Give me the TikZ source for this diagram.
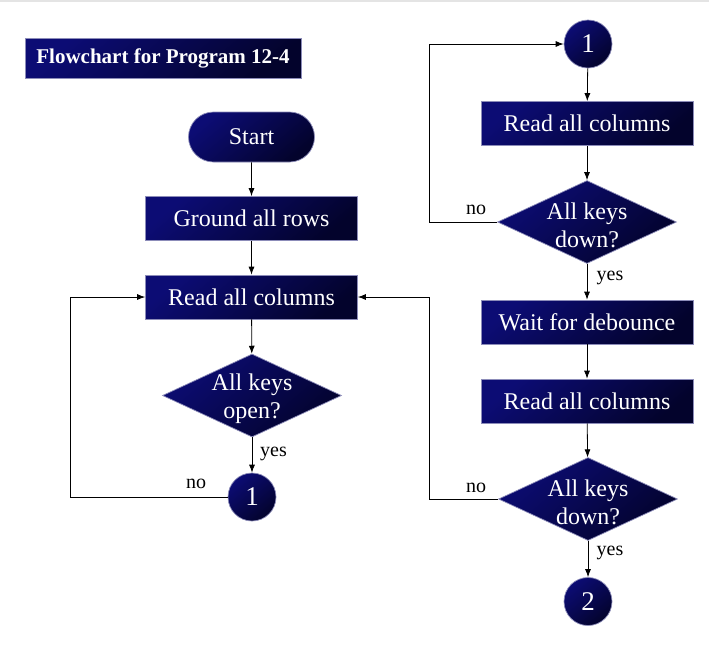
\documentclass[tikz,border=0pt]{standalone}
\usepackage{fontspec}
\setmainfont{Liberation Serif}
\usetikzlibrary{arrows.meta,shapes.geometric,shapes.misc,shadings}

\definecolor{navyL}{RGB}{12,12,116}
\definecolor{navyD}{RGB}{3,3,44}
\definecolor{rimC}{RGB}{140,140,185}
\definecolor{topRule}{RGB}{228,228,228}

\tikzset{
  shade fill/.style={top color=navyL, bottom color=navyD, shading angle=40,
                     draw=rimC, line width=0.7pt},
  txt/.style={text=white, font=\fontsize{24}{28}\selectfont},
  procbox/.style={shade fill, txt, rectangle, minimum width=212pt, minimum height=44pt, inner sep=0pt},
  termbox/.style={shade fill, txt, rounded rectangle, minimum width=126pt, minimum height=50pt, inner sep=0pt},
  decision/.style={shade fill, diamond, minimum width=179pt, minimum height=83pt, inner sep=0pt,
                   label={[txt, align=center, yshift=-3pt]center:#1}},
  connector/.style={shade fill, circle, minimum size=48pt, inner sep=0pt, text=white,
                    font=\fontsize{27}{30}\selectfont},
  titlebox/.style={shade fill, rectangle, minimum width=276pt, minimum height=40pt, inner sep=0pt,
                   text=white, font=\fontsize{21}{24}\selectfont\bfseries},
  arr/.style={draw=black, line width=0.8pt, -{Latex[length=8pt,width=6pt]}},
  tag/.style={font=\fontsize{20}{22}\selectfont, inner sep=0pt}
}

\begin{document}
\begin{tikzpicture}[x=1pt, y=-1pt]
  \useasboundingbox (0,0) rectangle (709,646);
  \fill[topRule] (0,0) rectangle (709,2);

  % heading
  \node[titlebox] (title) at (163,58) {Flowchart for Program 12-4};

  % left column: wait for all keys released
  \node[termbox]  (start) at (251.5,137)   {Start};
  \node[procbox]  (gnd)   at (251.5,218.5) {Ground all rows};
  \node[procbox]  (rdA)   at (251.5,297)   {Read all columns};
  \node[decision={All keys\\open?}] (chkA) at (252,395.5) {};
  \node[connector] (offA) at (252,497) {1};

  % right column: wait for a key press
  \node[connector] (onA)  at (588,44)    {1};
  \node[procbox]  (rdB)   at (587,123.5) {Read all columns};
  \node[decision={All keys\\down?}] (chkB) at (587,222) {};
  \node[procbox]  (wait)  at (587,322)   {Wait for debounce};
  \node[procbox]  (rdC)   at (587,401)   {Read all columns};
  \node[decision={All keys\\down?}] (chkC) at (588,499) {};
  \node[connector] (offB) at (588,601.5) {2};

  % loop-back columns
  \coordinate (loopL) at (70.5,300);
  \coordinate (loopR) at (429.5,300);

  % straight flow
  \draw[arr] (start) -- (gnd);
  \draw[arr] (gnd) -- (rdA);
  \draw[arr] (rdA) -- (chkA);
  \draw[arr] (chkA) -- (offA);
  \draw[arr] (onA) -- (rdB);
  \draw[arr] (rdB) -- (chkB);
  \draw[arr] (chkB) -- (wait);
  \draw[arr] (wait) -- (rdC);
  \draw[arr] (rdC) -- (chkC);
  \draw[arr] (chkC) -- (offB);

  % "no" branches
  \draw[arr] (offA.west) -- (offA.west -| loopL) |- (rdA.west);
  \draw[arr] (chkB.west) -- (chkB.west -| loopR) |- (onA.west);
  \draw[arr] (chkC.west) -- (chkC.west -| loopR) |- (rdA.east);

  % branch tags
  \node[tag] (yesA) at (273.5,454) {yes};
  \node[tag] (noA)  at (196,484)   {no};
  \node[tag] (noB)  at (476,210)   {no};
  \node[tag] (yesB) at (610,278)   {yes};
  \node[tag] (noC)  at (476,488)   {no};
  \node[tag] (yesC) at (610,553)   {yes};
\end{tikzpicture}
\end{document}
